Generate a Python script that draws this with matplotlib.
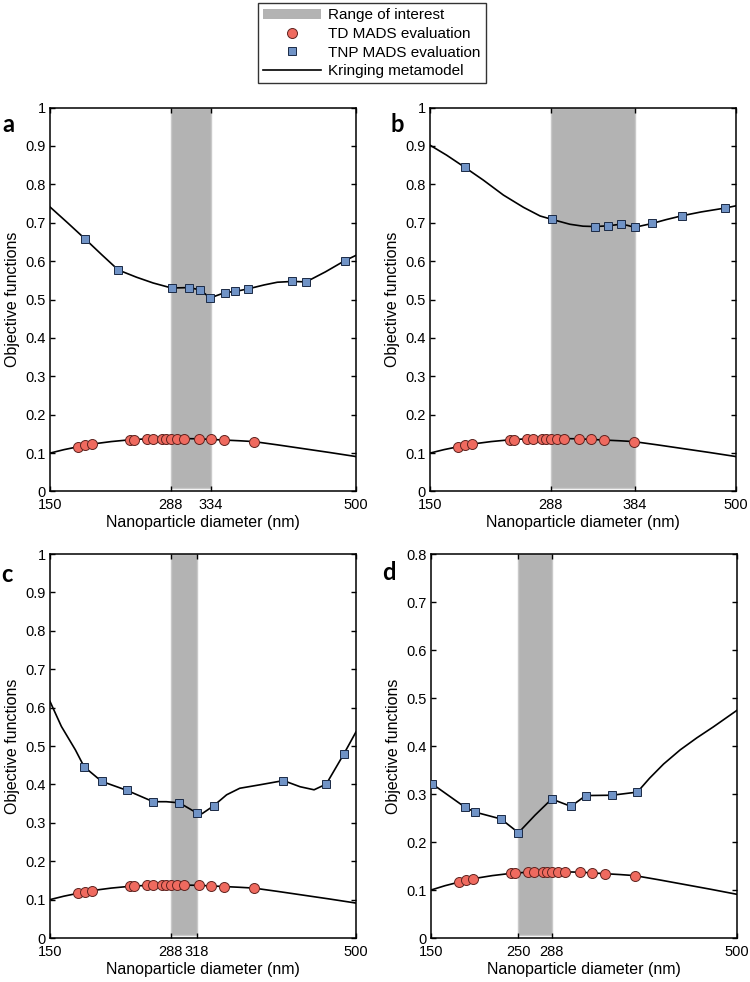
import matplotlib
matplotlib.use("Agg")
import matplotlib.pyplot as plt
from matplotlib.patches import Patch
from matplotlib.lines import Line2D

plt.rcParams['font.family'] = ['Liberation Sans', 'DejaVu Sans']

# ---------------- data ----------------
# TD MADS evaluations (same in all panels)
td_x = [182, 190, 198, 242, 246, 261, 268, 278, 283, 288, 295, 303, 320, 334, 349, 383]
td_y = [0.1165, 0.120, 0.1235, 0.1348, 0.1352, 0.1372, 0.1372, 0.138, 0.138, 0.138,
        0.138, 0.1378, 0.1372, 0.1357, 0.134, 0.130]
td_curve_x = [150, 166, 182, 190, 198, 220, 242, 246, 261, 268, 278, 283, 288, 295, 303,
              320, 334, 349, 366, 383, 410, 440, 470, 500]
td_curve_y = [0.100, 0.109, 0.1165, 0.120, 0.1235, 0.130, 0.1348, 0.1352, 0.1372, 0.1372,
              0.138, 0.138, 0.138, 0.138, 0.1378, 0.1372, 0.1357, 0.134, 0.1322, 0.130,
              0.1215, 0.1115, 0.1015, 0.091]

# Panel a
a_range = [288, 334]
a_xticks = [150, 288, 334, 500]
a_tnp_x = [190, 228, 289, 309, 322, 333, 350, 362, 377, 427, 443, 487]
a_tnp_y = [0.658, 0.577, 0.530, 0.531, 0.525, 0.504, 0.518, 0.521, 0.528, 0.547, 0.546, 0.601]
a_curve_x = [150, 170, 190, 209, 228, 249, 268, 289, 309, 322, 333, 350, 362, 377, 395,
             410, 427, 443, 465, 487, 500]
a_curve_y = [0.741, 0.700, 0.658, 0.617, 0.577, 0.558, 0.543, 0.530, 0.531, 0.525, 0.504,
             0.518, 0.521, 0.528, 0.538, 0.545, 0.547, 0.546, 0.572, 0.601, 0.615]

# Panel b
b_range = [288, 384]
b_xticks = [150, 288, 384, 500]
b_tnp_x = [190, 289, 339, 354, 368, 384, 404, 438, 487]
b_tnp_y = [0.844, 0.709, 0.690, 0.692, 0.696, 0.688, 0.698, 0.718, 0.738]
b_curve_x = [150, 169, 190, 211, 234, 257, 276, 289, 310, 325, 339, 354, 368, 376, 384,
             404, 420, 438, 460, 487, 500]
b_curve_y = [0.902, 0.876, 0.844, 0.811, 0.772, 0.740, 0.7175, 0.709, 0.696, 0.691, 0.690,
             0.692, 0.696, 0.693, 0.688, 0.698, 0.708, 0.718, 0.728, 0.738, 0.744]

# Panel c
c_range = [288, 318]
c_xticks = [150, 288, 318, 500]
c_tnp_x = [189, 209, 238, 268, 298, 318, 337, 417, 466, 486]
c_tnp_y = [0.446, 0.408, 0.3845, 0.355, 0.352, 0.3255, 0.344, 0.410, 0.401, 0.479]
c_curve_x = [150, 163, 179, 189, 209, 238, 268, 283, 298, 318, 324, 337, 352, 367, 390,
             417, 436, 452, 466, 486, 500]
c_curve_y = [0.616, 0.551, 0.490, 0.446, 0.408, 0.3845, 0.355, 0.355, 0.352, 0.3255, 0.324,
             0.344, 0.373, 0.390, 0.399, 0.410, 0.394, 0.386, 0.401, 0.479, 0.537]

# Panel d
d_range = [250, 288]
d_xticks = [150, 250, 288, 500]
d_tnp_x = [151, 188.5, 200, 230, 250, 288, 310, 327, 357, 386]
d_tnp_y = [0.3215, 0.273, 0.2625, 0.248, 0.2194, 0.2896, 0.2743, 0.2968, 0.2975, 0.304]
d_curve_x = [150, 151, 188.5, 200, 230, 250, 269, 288, 310, 327, 357, 386, 400, 416, 435,
             454, 473, 500]
d_curve_y = [0.322, 0.3215, 0.273, 0.2625, 0.248, 0.2194, 0.256, 0.2896, 0.2743, 0.2968,
             0.2975, 0.304, 0.333, 0.3625, 0.392, 0.417, 0.440, 0.4745]

yticks_1 = [0, 0.1, 0.2, 0.3, 0.4, 0.5, 0.6, 0.7, 0.8, 0.9, 1]
yticklabels_1 = ['0', '0.1', '0.2', '0.3', '0.4', '0.5', '0.6', '0.7', '0.8', '0.9', '1']
yticks_08 = [0, 0.1, 0.2, 0.3, 0.4, 0.5, 0.6, 0.7, 0.8]
yticklabels_08 = ['0', '0.1', '0.2', '0.3', '0.4', '0.5', '0.6', '0.7', '0.8']

panel_letters = ['a', 'b', 'c', 'd']
legend_labels = ['Range of interest', 'TD MADS evaluation', 'TNP MADS evaluation',
                 'Kringing metamodel']

# ---------------- style ----------------
GRAY = '#b3b3b3'
RED = '#ef6a5f'
RED_EDGE = '#5e2420'
BLUE = '#7093c6'
BLUE_EDGE = '#1b2a45'

fig = plt.figure(figsize=(7.5, 9.82), dpi=100)

positions = [
    [0.0667, 0.4995, 0.408, 0.391],
    [0.5733, 0.4995, 0.408, 0.391],
    [0.0667, 0.0448, 0.408, 0.391],
    [0.5747, 0.0448, 0.408, 0.391],
]
panels = [
    (a_range, a_xticks, a_tnp_x, a_tnp_y, a_curve_x, a_curve_y, 1.0, yticks_1, yticklabels_1),
    (b_range, b_xticks, b_tnp_x, b_tnp_y, b_curve_x, b_curve_y, 1.0, yticks_1, yticklabels_1),
    (c_range, c_xticks, c_tnp_x, c_tnp_y, c_curve_x, c_curve_y, 1.0, yticks_1, yticklabels_1),
    (d_range, d_xticks, d_tnp_x, d_tnp_y, d_curve_x, d_curve_y, 0.8, yticks_08, yticklabels_08),
]
letter_pos = [(8, 125), (397, 125), (7, 575), (389, 572)]

for i, (pos, p) in enumerate(zip(positions, panels)):
    rng, xt, tx, ty, cx, cy, ymax, yt, ytl = p
    ax = fig.add_axes(pos)
    ax.axvspan(rng[0], rng[1], ymin=0.008, ymax=1, facecolor=GRAY, edgecolor='#c9c9c9',
               linewidth=1.0, zorder=1)
    ax.plot(td_curve_x, td_curve_y, color='black', lw=1.2, zorder=2)
    ax.plot(cx, cy, color='black', lw=1.2, zorder=2)
    ax.plot(td_x, td_y, linestyle='none', marker='o', markersize=7.2,
            markerfacecolor=RED, markeredgecolor=RED_EDGE, markeredgewidth=0.7, zorder=3)
    ax.plot(tx, ty, linestyle='none', marker='s', markersize=6.0,
            markerfacecolor=BLUE, markeredgecolor=BLUE_EDGE, markeredgewidth=0.7, zorder=3)
    ax.set_xlim(150, 500)
    ax.set_ylim(0, ymax)
    ax.set_xticks(xt)
    ax.set_xticklabels([str(v) for v in xt])
    ax.set_yticks(yt)
    ax.set_yticklabels(ytl)
    ax.tick_params(direction='in', length=3.5, width=1.0, labelsize=10.5,
                   top=True, right=True)
    ax.tick_params(axis='x', pad=5)
    ax.tick_params(axis='y', pad=3)
    for s in ax.spines.values():
        s.set_linewidth(1.1)
    ax.set_xlabel('Nanoparticle diameter (nm)', fontsize=11.5, labelpad=2)
    ax.set_ylabel('Objective functions', fontsize=11.5, labelpad=4)
    lx, ly = letter_pos[i]
    fig.text(lx / 750, 1 - ly / 982, panel_letters[i], fontsize=17, fontweight='bold',
             family=['Lato', 'DejaVu Sans'], ha='center', va='center')

handles = [
    Patch(facecolor=GRAY, edgecolor='none'),
    Line2D([], [], linestyle='none', marker='o', markersize=7.2, markerfacecolor=RED,
           markeredgecolor=RED_EDGE, markeredgewidth=0.7),
    Line2D([], [], linestyle='none', marker='s', markersize=6.0, markerfacecolor=BLUE,
           markeredgecolor=BLUE_EDGE, markeredgewidth=0.7),
    Line2D([], [], color='black', lw=1.2),
]
leg = fig.legend(handles, legend_labels, loc='upper left',
                 bbox_to_anchor=(258 / 750, 1 - 3 / 982), bbox_transform=fig.transFigure,
                 fontsize=11, frameon=True, fancybox=False, borderaxespad=0,
                 handlelength=3.8, handleheight=0.7, handletextpad=0.45,
                 labelspacing=0.3, borderpad=0.35)
leg.get_frame().set_edgecolor('black')
leg.get_frame().set_linewidth(1.0)

fig.savefig('out.png', dpi=100)
